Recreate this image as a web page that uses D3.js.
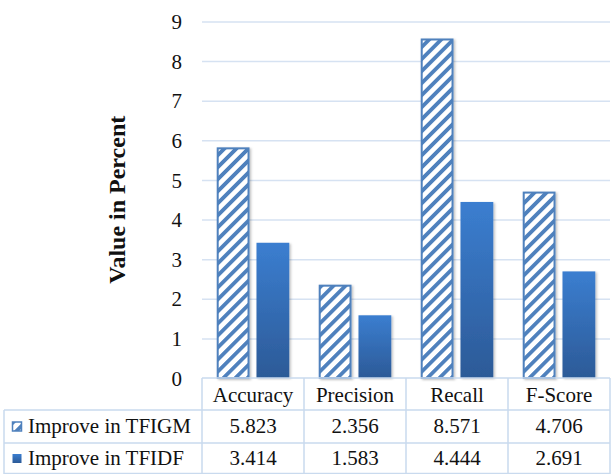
<!DOCTYPE html>
<html>
<head>
<meta charset="utf-8">
<script src="https://cdn.jsdelivr.net/npm/d3@7"></script>
<style>
  html, body { margin: 0; padding: 0; background: #ffffff; }
  svg { display: block; }
  text { font-family: "Liberation Serif", "Times New Roman", serif; fill: #111; }
</style>
</head>
<body>
<svg id="chart" width="611" height="474"></svg>
<script>
// Improvement figures per metric
const categories = ["Accuracy", "Precision", "Recall", "F-Score"];
const seriesNames = ["Improve in TFIGM", "Improve in TFIDF"];
const tfigmValues = [5.823, 2.356, 8.571, 4.706];
const tfidfValues = [3.414, 1.583, 4.444, 2.691];
const yTickValues = [0, 1, 2, 3, 4, 5, 6, 7, 8, 9];
const yTitle = "Value in Percent";

const series = [
  { name: seriesNames[0], values: tfigmValues, key: "tfigm" },
  { name: seriesNames[1], values: tfidfValues, key: "tfidf" }
];

const svg = d3.select("#chart");
const plot = { left: 202, right: 610, top: 21.5, bottom: 378 };
const blue = "#4f81bd";
const gridColor = "#d6e2f2";
const tableColor = "#c9daee";

// ---- defs: hatch pattern, gradient, shadow ----
const defs = svg.append("defs");
const hatch = defs.append("pattern")
  .attr("id", "hatch")
  .attr("patternUnits", "userSpaceOnUse")
  .attr("width", 8.5).attr("height", 8.5)
  .attr("patternTransform", "rotate(45)");
hatch.append("rect").attr("width", 8.5).attr("height", 8.5).attr("fill", "#fff");
hatch.append("rect").attr("x", 0).attr("width", 3.8).attr("height", 8.5).attr("fill", blue);

const grad = defs.append("linearGradient")
  .attr("id", "solidGrad")
  .attr("x1", 0).attr("y1", 0).attr("x2", 0).attr("y2", 1);
grad.append("stop").attr("offset", "0%").attr("stop-color", "#3b7ed0");
grad.append("stop").attr("offset", "100%").attr("stop-color", "#2c5a97");

const shadow = defs.append("filter").attr("id", "shadow")
  .attr("x", "-20%").attr("y", "-5%").attr("width", "150%").attr("height", "115%");
shadow.append("feDropShadow")
  .attr("dx", 1.5).attr("dy", 1).attr("stdDeviation", 1)
  .attr("flood-color", "#000").attr("flood-opacity", 0.25);

// ---- scales ----
const y = d3.scaleLinear().domain([0, 9]).range([plot.bottom, plot.top]);
const x0 = d3.scaleBand().domain(categories).range([plot.left, plot.right]).padding(0);
const x1 = d3.scaleBand().domain(series.map(s => s.key))
  .range([0, x0.bandwidth()]).paddingInner(0.175).paddingOuter(0.37);

// ---- gridlines ----
svg.append("g")
  .attr("transform", `translate(${plot.left},0)`)
  .call(d3.axisLeft(y).tickValues(yTickValues.slice(1)).tickSize(-(plot.right - plot.left)).tickFormat(""))
  .call(g => g.select(".domain").remove())
  .call(g => g.selectAll("line").attr("stroke", gridColor).attr("stroke-width", 1.5));

// ---- y tick labels ----
svg.append("g")
  .attr("transform", "translate(182,0)")
  .call(d3.axisLeft(y).tickValues(yTickValues).tickSize(0).tickPadding(0).tickFormat(d3.format("d")))
  .call(g => g.select(".domain").remove())
  .call(g => g.selectAll("text")
    .attr("font-family", "Liberation Serif, serif")
    .attr("font-size", 21)
    .attr("fill", "#111")
    .attr("dy", "0.34em"));

// ---- y title ----
svg.append("text")
  .attr("transform", `translate(125,${(plot.top + plot.bottom) / 2}) rotate(-90)`)
  .attr("text-anchor", "middle")
  .attr("font-size", 24)
  .attr("font-weight", "bold")
  .text(yTitle);

// ---- bars ----
const groups = svg.append("g").selectAll("g")
  .data(categories)
  .join("g")
  .attr("transform", d => `translate(${x0(d)},0)`);

groups.selectAll("rect")
  .data((d, i) => series.map(s => ({ key: s.key, value: s.values[i] })))
  .join("rect")
  .attr("x", d => x1(d.key) + (d.key === "tfigm" ? 1 : 0))
  .attr("width", d => x1.bandwidth() - (d.key === "tfigm" ? 2 : 0))
  .attr("y", d => y(d.value) + (d.key === "tfigm" ? 1 : 0))
  .attr("height", d => y(0) - y(d.value) - (d.key === "tfigm" ? 1 : 0))
  .attr("fill", d => d.key === "tfigm" ? "url(#hatch)" : "url(#solidGrad)")
  .attr("stroke", d => d.key === "tfigm" ? blue : "none")
  .attr("stroke-width", 2)
  .attr("filter", "url(#shadow)");

// ---- data table ----
const rowTop = [plot.bottom, 410, 443];
const rowBottom = [410, 443, 474];
const tableLeft = 4;
const table = svg.append("g");

// horizontal rules
table.append("line")
  .attr("x1", plot.left).attr("x2", plot.right)
  .attr("y1", rowTop[0]).attr("y2", rowTop[0]);
[rowTop[1], rowTop[2], rowBottom[2] - 0.5].forEach(yy => {
  table.append("line")
    .attr("x1", tableLeft).attr("x2", plot.right)
    .attr("y1", yy).attr("y2", yy);
});
// vertical rules
table.append("line")
  .attr("x1", tableLeft).attr("x2", tableLeft)
  .attr("y1", rowTop[1]).attr("y2", rowBottom[2]);
categories.forEach(c => {
  table.append("line")
    .attr("x1", x0(c)).attr("x2", x0(c))
    .attr("y1", rowTop[0]).attr("y2", rowBottom[2]);
});
table.append("line")
  .attr("x1", plot.right).attr("x2", plot.right)
  .attr("y1", rowTop[0]).attr("y2", rowBottom[2]);
table.selectAll("line").attr("stroke", tableColor).attr("stroke-width", 1.5);

// header labels
table.selectAll("text.head")
  .data(categories)
  .join("text")
  .attr("class", "head")
  .attr("x", d => x0(d) + x0.bandwidth() / 2)
  .attr("y", 401.5)
  .attr("text-anchor", "middle")
  .attr("font-size", 21)
  .text(d => d);

// series rows
const fmt = d3.format(".3f");
series.forEach((s, si) => {
  const baseline = [432.5, 465][si];
  const mid = (rowTop[si + 1] + rowBottom[si + 1]) / 2;
  table.append("rect")
    .attr("x", 12.5).attr("y", mid - 4.5)
    .attr("width", 9).attr("height", 9)
    .attr("fill", si === 0 ? "url(#hatch)" : "url(#solidGrad)")
    .attr("stroke", si === 0 ? blue : "none")
    .attr("stroke-width", 1.5);
  table.append("text")
    .attr("x", 28).attr("y", baseline)
    .attr("font-size", 21)
    .text(s.name);
  table.selectAll(`text.v${si}`)
    .data(s.values)
    .join("text")
    .attr("class", `v${si}`)
    .attr("x", (d, i) => x0(categories[i]) + x0.bandwidth() / 2)
    .attr("y", baseline)
    .attr("text-anchor", "middle")
    .attr("font-size", 21)
    .text(d => fmt(d));
});
</script>
</body>
</html>
